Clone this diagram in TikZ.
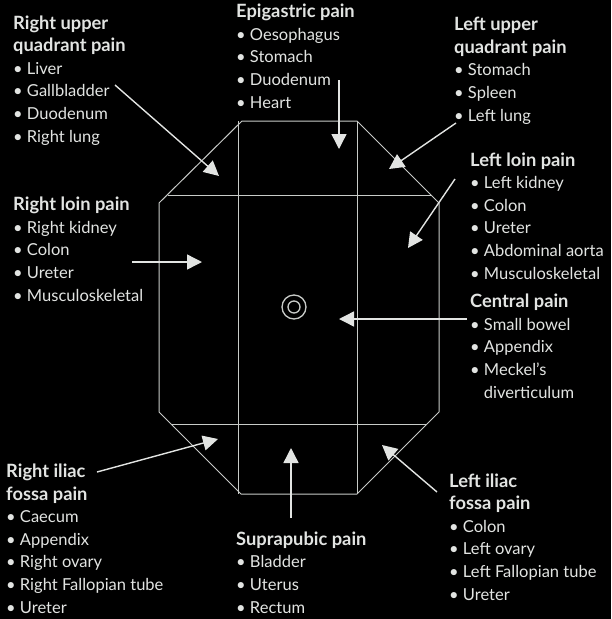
\documentclass[tikz,border=0pt]{standalone}
\usepackage{fontspec}
\setmainfont{Lato}
\usepackage{xcolor}
\usetikzlibrary{arrows.meta}
\definecolor{ink}{HTML}{E2E4E2}
\definecolor{rule}{HTML}{C8CBC8}
\newcommand\hdg[1]{{\fontsize{18.3}{22.6}\selectfont\bfseries #1}}

\begin{document}
\begin{tikzpicture}[x=1pt, y=-1pt,
    lbl/.style={anchor=base west, align=left, inner sep=0pt, text=ink,
      font=\fontsize{16.5}{22.6}\selectfont},
    arr/.style={draw=ink, line width=1.4pt, -{Triangle[length=15pt, width=15pt]}},
    ln/.style={draw=rule, line width=1pt}]
  \fill[black] (0,0) rectangle (611,619);
  \useasboundingbox (0,0) rectangle (611,619);
  % abdomen outline and regions
  \draw[ln] (242,121) -- (357,121) -- (439,203) -- (439,412) -- (357,494)
    -- (241,494) -- (159,412) -- (159,203) -- cycle;
  \draw[ln] (238,121) -- (238,494);
  \draw[ln] (357,121) -- (357,494);
  \draw[ln] (168,195) -- (431,195);
  \draw[ln] (171,424) -- (427,424);
  % umbilicus
  \draw[ln, line width=1.3pt] (294,307) circle (12pt) (294,307) circle (6pt);
  % labels (placed by the baseline of their last line)
  \node[lbl] (ruq) at (13,142) {\hdg{Right upper}\\\hdg{quadrant pain}\\• Liver\\• Gallbladder\\• Duodenum\\• Right lung};
  \node[lbl] (epi) at (236,108) {\hdg{Epigastric pain}\\• Oesophagus\\• Stomach\\• Duodenum\\• Heart};
  \node[lbl] (luq) at (454,121) {\hdg{Left upper}\\\hdg{quadrant pain}\\• Stomach\\• Spleen\\• Left lung};
  \node[lbl] (lloin) at (470,279) {\hdg{Left loin pain}\\• Left kidney\\• Colon\\• Ureter\\• Abdominal aorta\\• Musculoskeletal};
  \node[lbl] (cent) at (470,398) {\hdg{Central pain}\\• Small bowel\\• Appendix\\• Meckel’s\\\phantom{• }diverticulum};
  \node[lbl] (rloin) at (13,301) {\hdg{Right loin pain}\\• Right kidney\\• Colon\\• Ureter\\• Musculoskeletal};
  \node[lbl] (rif) at (6,613) {\hdg{Right iliac}\\\hdg{fossa pain}\\• Caecum\\• Appendix\\• Right ovary\\• Right Fallopian tube\\• Ureter};
  \node[lbl] (supra) at (236,613) {\hdg{Suprapubic pain}\\• Bladder\\• Uterus\\• Rectum};
  \node[lbl] (lif) at (449,600) {\hdg{Left iliac}\\\hdg{fossa pain}\\• Colon\\• Left ovary\\• Left Fallopian tube\\• Ureter};
  % arrow ends
  \coordinate (ruq-a) at (115,85);   \coordinate (ruq-b) at (219,176);
  \coordinate (epi-a) at (339,80);   \coordinate (epi-b) at (339,149);
  \coordinate (luq-a) at (456,123);  \coordinate (luq-b) at (389,169);
  \coordinate (ll-a) at (455,179);   \coordinate (ll-b) at (408,248);
  \coordinate (rl-a) at (132,262);   \coordinate (rl-b) at (202,262);
  \coordinate (c-a) at (467,319);    \coordinate (c-b) at (339,319);
  \coordinate (rif-a) at (97,472);   \coordinate (rif-b) at (218,439);
  \coordinate (sp-a) at (291,518);   \coordinate (sp-b) at (291,448);
  \coordinate (lif-a) at (437,492);  \coordinate (lif-b) at (382,445);
  \foreach \p in {ruq,epi,luq,ll,rl,c,rif,sp,lif}
    \draw[arr] (\p-a) -- (\p-b);
\end{tikzpicture}
\end{document}
